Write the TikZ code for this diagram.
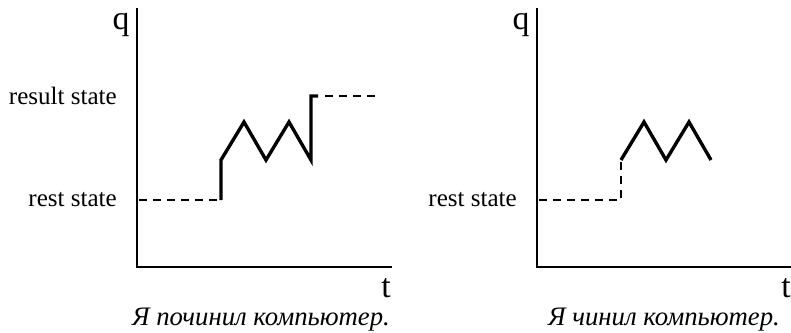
\documentclass[tikz,border=0pt]{standalone}
\usepackage{fontspec}
\setmainfont{Liberation Serif}
\usepackage{tikz}
\usetikzlibrary{positioning}

\begin{document}
\begin{tikzpicture}[x=0.025cm, y=-0.025cm,
  axis/.style={line width=1.4pt, black},
  path/.style={line width=2.4pt, black},
  guide/.style={line width=1.4pt, black, dash pattern=on 5.5pt off 4.5pt},
  statelabel/.style={anchor=east, font=\fontsize{17.8}{20}\selectfont, inner sep=0pt},
  axlabel/.style={anchor=base, font=\fontsize{24}{26}\selectfont, inner sep=0pt},
  caption/.style={anchor=base, font=\itshape\fontsize{19}{22}\selectfont, inner sep=0pt},
]
  \useasboundingbox (0,0) rectangle (791,332);

  % left plot: perfective
  \draw[axis] (137,8) -- (137,267) -- (392,267);
  \node[axlabel] (lq) at (121,29) {q};
  \node[axlabel] (lt) at (386,297) {t};
  \node[statelabel] (lres) at (117,96) {result state};
  \node[statelabel] (lrest) at (117,200) {rest state};
  \draw[guide] (139,200) -- (220,200);
  \draw[path] (221,200) -- (221,160) -- (244,122) -- (266,160) -- (289,122)
    -- (311,160) -- (311,96) -- (318,96);
  \draw[guide] (325,96) -- (376,96);
  \node[caption] (lcap) at (261,325) {Я починил компьютер.};

  % right plot: imperfective
  \draw[axis] (537,8) -- (537,267) -- (791,267);
  \node[axlabel] (rq) at (521,29) {q};
  \node[axlabel] (rt) at (786,297) {t};
  \node[statelabel] (rrest) at (517,200) {rest state};
  \draw[guide] (539,200) -- (621,200) -- (621,160);
  \draw[path] (621,160) -- (644,122) -- (666,160) -- (689,122) -- (711,160);
  \node[caption] (rcap) at (664,325) {Я чинил компьютер.};
\end{tikzpicture}
\end{document}
